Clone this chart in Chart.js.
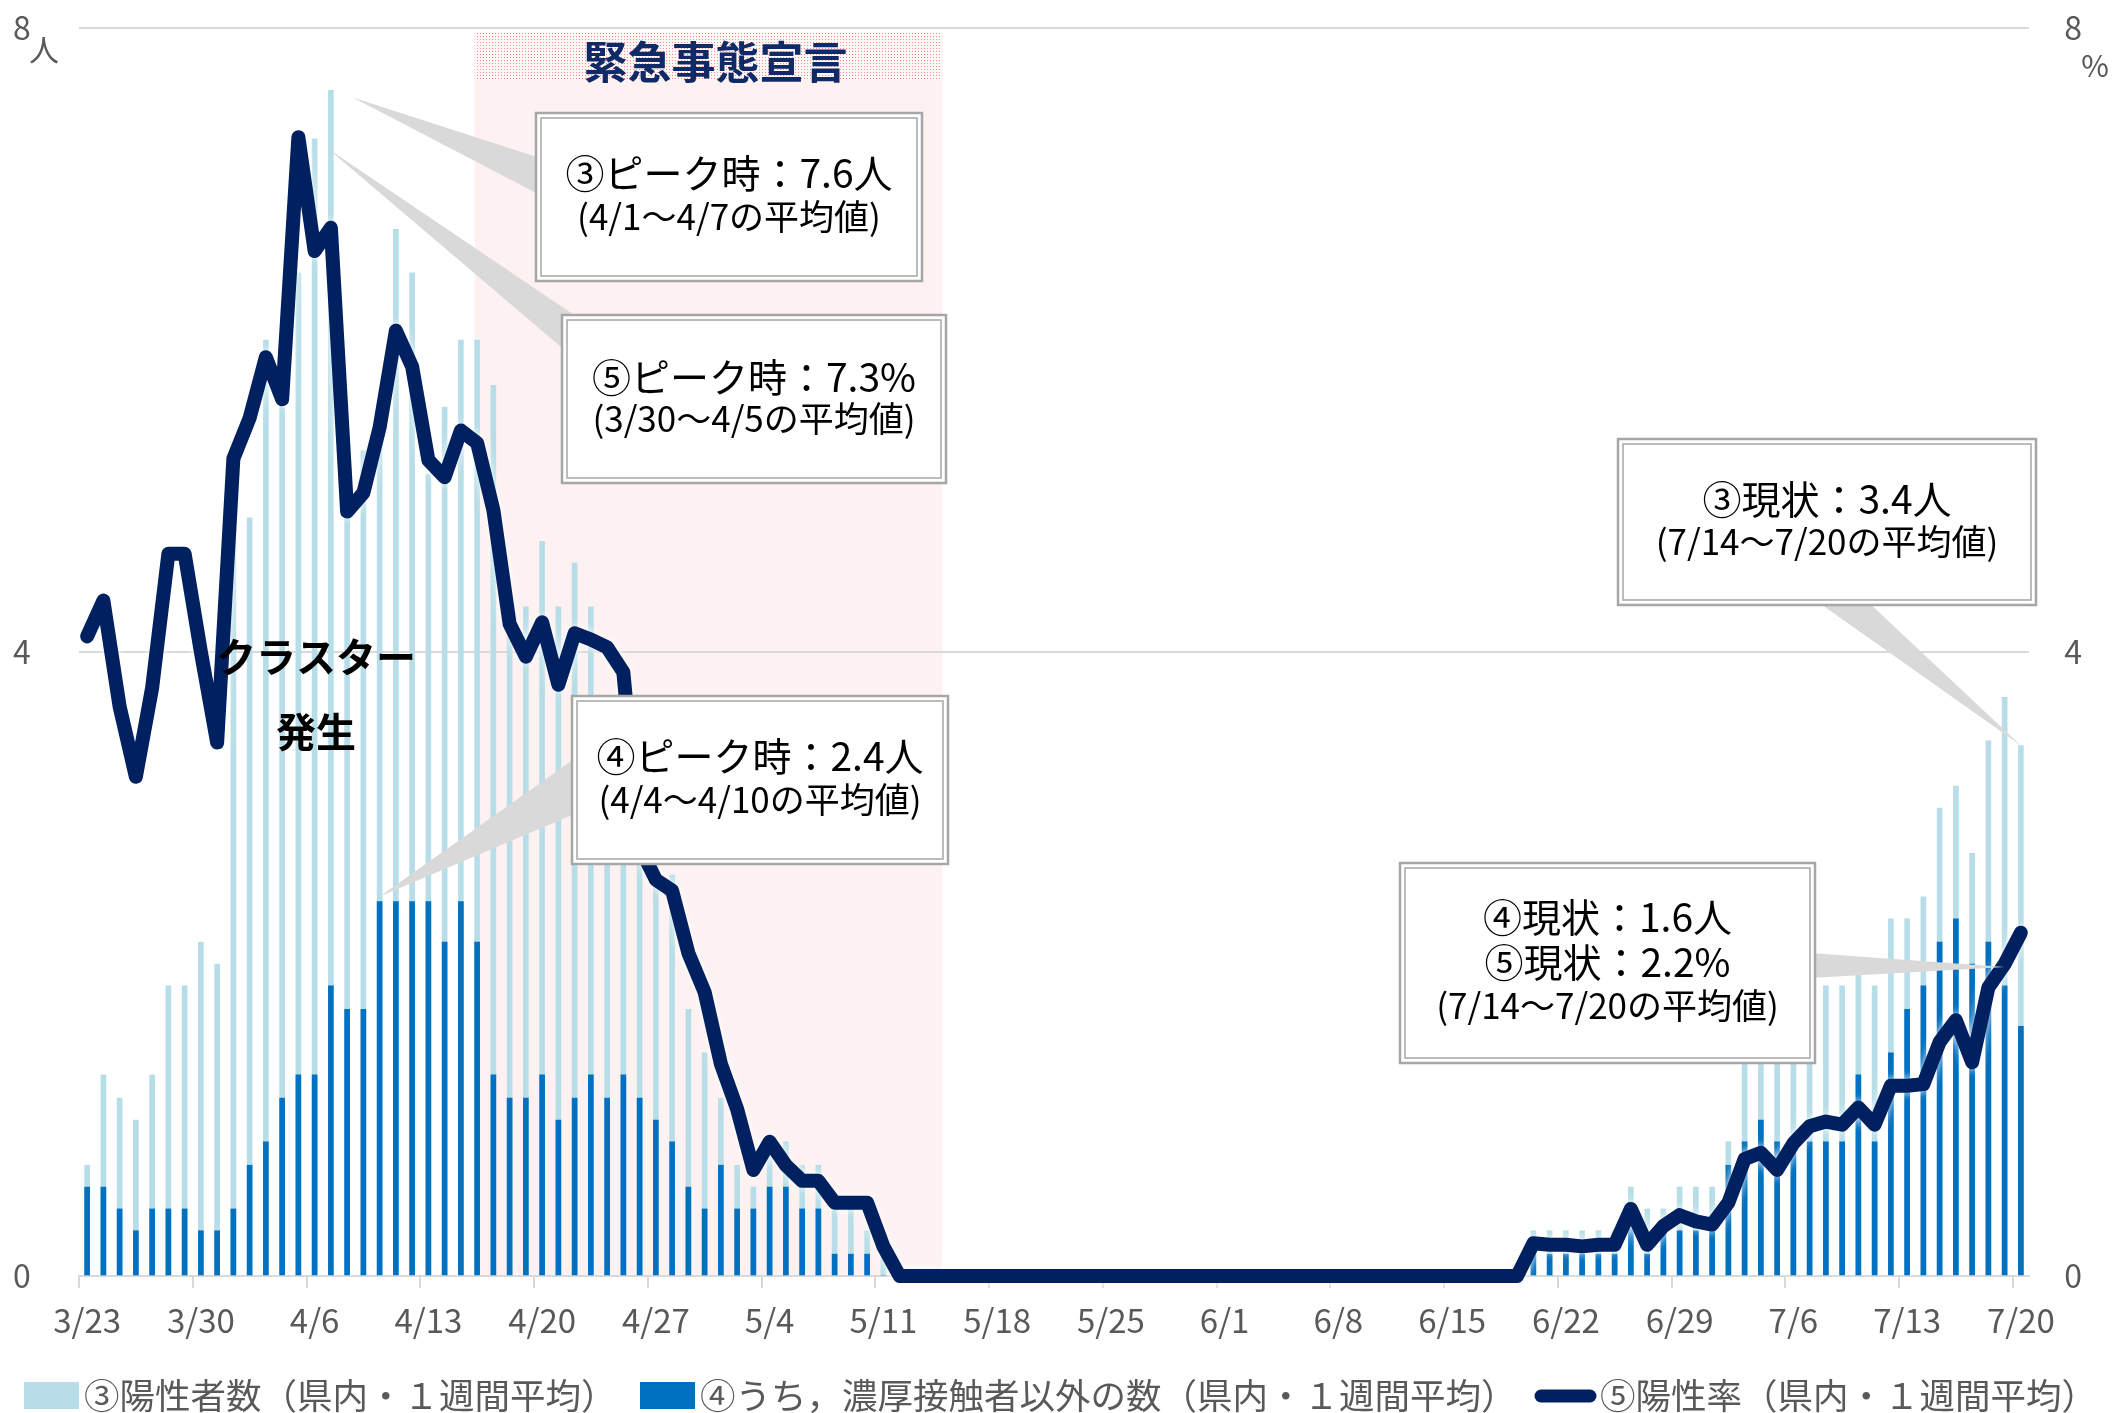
<!DOCTYPE html>
<html lang="ja">
<head>
<meta charset="utf-8">
<title>陽性者数・陽性率の推移</title>
<script src="https://cdn.jsdelivr.net/npm/chart.js@4.4.1/dist/chart.umd.min.js"></script>
<style>
  html, body { margin: 0; padding: 0; background: #fff; }
  #wrap { width: 2125px; height: 1413px; }
</style>
</head>
<body>
<div id="wrap"><canvas id="chart" width="2125" height="1413"></canvas></div>
<script>
// 日付（3/23〜7/20）
const dates = [
  '3/23','3/24','3/25','3/26','3/27','3/28','3/29','3/30','3/31',
  '4/1','4/2','4/3','4/4','4/5','4/6','4/7','4/8','4/9','4/10',
  '4/11','4/12','4/13','4/14','4/15','4/16','4/17','4/18','4/19','4/20',
  '4/21','4/22','4/23','4/24','4/25','4/26','4/27','4/28','4/29','4/30',
  '5/1','5/2','5/3','5/4','5/5','5/6','5/7','5/8','5/9','5/10',
  '5/11','5/12','5/13','5/14','5/15','5/16','5/17','5/18','5/19','5/20',
  '5/21','5/22','5/23','5/24','5/25','5/26','5/27','5/28','5/29','5/30','5/31',
  '6/1','6/2','6/3','6/4','6/5','6/6','6/7','6/8','6/9','6/10',
  '6/11','6/12','6/13','6/14','6/15','6/16','6/17','6/18','6/19','6/20',
  '6/21','6/22','6/23','6/24','6/25','6/26','6/27','6/28','6/29','6/30',
  '7/1','7/2','7/3','7/4','7/5','7/6','7/7','7/8','7/9','7/10',
  '7/11','7/12','7/13','7/14','7/15','7/16','7/17','7/18','7/19','7/20'
];

// 目盛に出す日付（毎週）
const weekLabels = ['3/23','3/30','4/6','4/13','4/20','4/27','5/4','5/11','5/18',
  '5/25','6/1','6/8','6/15','6/22','6/29','7/6','7/13','7/20'];

// ③陽性者数（県内・1週間平均）
const positives = [
  0.71, 1.29, 1.14, 1.00, 1.29, 1.86, 1.86, 2.14, 2.00,
  5.14, 4.86, 6.00, 5.57, 6.43, 7.29, 7.60, 4.86, 5.29, 5.43,
  6.71, 6.43, 5.14, 5.57, 6.00, 6.00, 5.71, 4.14, 4.29, 4.71,
  4.29, 4.57, 4.29, 3.57, 3.43, 3.14, 2.86, 2.57, 1.71, 1.43,
  1.14, 0.71, 0.57, 0.86, 0.86, 0.71, 0.71, 0.43, 0.43, 0.29,
  0.14, 0, 0, 0, 0, 0, 0, 0, 0, 0,
  0, 0, 0, 0, 0, 0, 0, 0, 0, 0, 0,
  0, 0, 0, 0, 0, 0, 0, 0, 0, 0,
  0, 0, 0, 0, 0, 0, 0, 0, 0, 0.29,
  0.29, 0.29, 0.29, 0.29, 0.29, 0.57, 0.43, 0.43, 0.57, 0.57,
  0.57, 0.86, 1.43, 1.57, 1.71, 1.71, 1.86, 1.86, 1.86, 2.00,
  1.86, 2.29, 2.29, 2.43, 3.00, 3.14, 2.71, 3.43, 3.71, 3.40
];

// ④うち、濃厚接触者以外の数（県内・1週間平均）
const nonContact = [
  0.57, 0.57, 0.43, 0.29, 0.43, 0.43, 0.43, 0.29, 0.29,
  0.43, 0.71, 0.86, 1.14, 1.29, 1.29, 1.86, 1.71, 1.71, 2.40,
  2.40, 2.40, 2.40, 2.14, 2.40, 2.14, 1.29, 1.14, 1.14, 1.29,
  1.00, 1.14, 1.29, 1.14, 1.29, 1.14, 1.00, 0.86, 0.57, 0.43,
  0.71, 0.43, 0.43, 0.57, 0.57, 0.43, 0.43, 0.14, 0.14, 0.14,
  0, 0, 0, 0, 0, 0, 0, 0, 0, 0,
  0, 0, 0, 0, 0, 0, 0, 0, 0, 0, 0,
  0, 0, 0, 0, 0, 0, 0, 0, 0, 0,
  0, 0, 0, 0, 0, 0, 0, 0, 0, 0.14,
  0.14, 0.14, 0.14, 0.14, 0.14, 0.43, 0.14, 0.29, 0.29, 0.29,
  0.29, 0.71, 0.86, 1.00, 0.86, 0.86, 0.86, 0.86, 0.86, 1.29,
  0.86, 1.43, 1.71, 1.86, 2.14, 2.29, 2.00, 2.14, 1.86, 1.60
];

// ⑤陽性率（県内・1週間平均、%）
const positiveRate = [
  4.10, 4.33, 3.65, 3.20, 3.77, 4.63, 4.63, 4.00, 3.42,
  5.24, 5.50, 5.89, 5.62, 7.30, 6.57, 6.72, 4.90, 5.02, 5.44,
  6.06, 5.83, 5.23, 5.12, 5.42, 5.34, 4.91, 4.18, 3.97, 4.19,
  3.79, 4.12, 4.08, 4.03, 3.87, 2.75, 2.54, 2.47, 2.07, 1.82,
  1.36, 1.07, 0.68, 0.86, 0.71, 0.61, 0.61, 0.47, 0.47, 0.47,
  0.19, 0, 0, 0, 0, 0, 0, 0, 0, 0,
  0, 0, 0, 0, 0, 0, 0, 0, 0, 0, 0,
  0, 0, 0, 0, 0, 0, 0, 0, 0, 0,
  0, 0, 0, 0, 0, 0, 0, 0, 0, 0.21,
  0.20, 0.20, 0.19, 0.20, 0.20, 0.43, 0.20, 0.32, 0.39, 0.35,
  0.33, 0.47, 0.75, 0.79, 0.68, 0.85, 0.96, 0.99, 0.97, 1.08,
  0.97, 1.22, 1.22, 1.23, 1.50, 1.64, 1.37, 1.85, 2.00, 2.20
];

// 緊急事態宣言の期間
const declStart = '4/16';
const declEnd = '5/14';

const FONT = "'Noto Sans CJK JP', 'Noto Sans', sans-serif";
Chart.defaults.font.family = FONT;
Chart.defaults.color = '#595959';

const LIGHT = '#b7dee8';
const BLUE = '#0070c0';
const NAVY = '#002060';

const idx = d => dates.indexOf(d);

// 吹き出し（枠の位置と文字）
const notes = [
  {
    box: [535, 112, 388, 170],
    text: [['③ピーク時：7.6人', 39, 61], ['(4/1～4/7の平均値)', 35, 105]],
    base: [[540, 158], [540, 195]],
    tip: s => [s.x.getPixelForValue(idx('4/7')) + 22, s.y.getPixelForValue(positives[idx('4/7')]) + 7]
  },
  {
    box: [561, 314, 386, 170],
    text: [['⑤ピーク時：7.3%', 39, 63], ['(3/30～4/5の平均値)', 35, 105]],
    base: [[580, 319], [567, 352]],
    tip: s => [s.x.getPixelForValue(idx('4/5')) + 29, s.y2.getPixelForValue(positiveRate[idx('4/5')]) + 11]
  },
  {
    box: [571, 695, 378, 170],
    text: [['④ピーク時：2.4人', 39, 61], ['(4/4～4/10の平均値)', 35, 105]],
    base: [[577, 757], [577, 813]],
    tip: s => [s.x.getPixelForValue(idx('4/10')), s.y.getPixelForValue(nonContact[idx('4/10')]) - 5]
  },
  {
    box: [1617, 438, 420, 168],
    text: [['③現状：3.4人', 39, 61], ['(7/14～7/20の平均値)', 35, 104]],
    base: [[1815, 600], [1866, 600]],
    tip: s => [s.x.getPixelForValue(idx('7/20')), s.y.getPixelForValue(positives[idx('7/20')])]
  },
  {
    box: [1399, 862, 417, 202],
    text: [['④現状：1.6人', 39, 55], ['⑤現状：2.2%', 39, 100], ['(7/14～7/20の平均値)', 35, 144]],
    base: [[1810, 953], [1810, 978]],
    tip: s => [s.x.getPixelForValue(idx('7/19')), s.y2.getPixelForValue(positiveRate[idx('7/19')]) + 3]
  }
];

function dotPattern(ctx) {
  const tile = document.createElement('canvas');
  tile.width = 3; tile.height = 3;
  const t = tile.getContext('2d');
  t.fillStyle = '#fff6f6';
  t.fillRect(0, 0, 3, 3);
  t.fillStyle = '#ee9090';
  t.fillRect(0, 0, 1, 1);
  return ctx.createPattern(tile, 'repeat');
}

const decor = {
  id: 'decor',
  // 宣言期間の背景
  beforeDraw(chart) {
    const { ctx, chartArea, scales } = chart;
    const x = scales.x;
    const step = x.getPixelForValue(1) - x.getPixelForValue(0);
    const left = x.getPixelForValue(idx(declStart)) - 0.15 * step;
    const right = x.getPixelForValue(idx(declEnd)) + 0.62 * step;
    const top = chartArea.top + 4;
    ctx.save();
    ctx.fillStyle = '#fef1f1';
    ctx.fillRect(left, top, right - left, chartArea.bottom - top);
    ctx.fillStyle = dotPattern(ctx);
    ctx.fillRect(left, top, right - left, 48);
    ctx.fillStyle = '#0f2a66';
    ctx.font = 'bold 44px ' + FONT;
    ctx.textAlign = 'center';
    ctx.textBaseline = 'middle';
    ctx.fillText('緊急事態宣言', (left + right) / 2 + 7, top + 30);
    ctx.restore();
  },
  // 折れ線に白いふち
  beforeDatasetDraw(chart, args) {
    if (args.meta.type !== 'line') return;
    chart.ctx.save();
    chart.ctx.shadowColor = 'rgba(255,255,255,0.95)';
    chart.ctx.shadowBlur = 9;
  },
  afterDatasetDraw(chart, args) {
    if (args.meta.type !== 'line') return;
    chart.ctx.restore();
  },
  afterDatasetsDraw(chart) {
    const { ctx, scales } = chart;
    ctx.save();

    ctx.fillStyle = '#000';
    ctx.font = 'bold 40px ' + FONT;
    ctx.textAlign = 'center';
    ctx.textBaseline = 'middle';
    ctx.fillText('クラスター', 316, 657);
    ctx.fillText('発生', 316, 732);

    notes.forEach(n => {
      const [tx, ty] = n.tip(scales);
      ctx.fillStyle = '#d9d9d9';
      ctx.beginPath();
      ctx.moveTo(tx, ty);
      ctx.lineTo(n.base[0][0], n.base[0][1]);
      ctx.lineTo(n.base[1][0], n.base[1][1]);
      ctx.closePath();
      ctx.fill();
    });

    notes.forEach(n => {
      const [bx, by, bw, bh] = n.box;
      ctx.fillStyle = '#fff';
      ctx.fillRect(bx, by, bw, bh);
      ctx.strokeStyle = '#a6a6a6';
      ctx.lineWidth = 2.5;
      ctx.strokeRect(bx + 1, by + 1, bw - 2, bh - 2);
      ctx.lineWidth = 1.5;
      ctx.strokeRect(bx + 6, by + 6, bw - 12, bh - 12);
      ctx.fillStyle = '#000';
      ctx.textAlign = 'center';
      ctx.textBaseline = 'middle';
      n.text.forEach(([s, size, dy]) => {
        ctx.font = size + 'px ' + FONT;
        ctx.fillText(s, bx + bw / 2, by + dy);
      });
    });
    ctx.restore();
  },
  afterDraw(chart) {
    const { ctx } = chart;
    ctx.save();
    ctx.fillStyle = '#595959';
    ctx.font = '30px ' + FONT;
    ctx.textAlign = 'center';
    ctx.textBaseline = 'middle';
    ctx.fillText('人', 44, 50);
    ctx.fillText('%', 2095, 66);

    // 凡例
    const y = 1396;
    ctx.font = '35.5px ' + FONT;
    ctx.textAlign = 'left';
    ctx.fillStyle = LIGHT;
    ctx.fillRect(24, y - 14, 55, 27);
    ctx.fillStyle = '#595959';
    ctx.fillText('③陽性者数（県内・１週間平均）', 84, y);
    ctx.fillStyle = BLUE;
    ctx.fillRect(640, y - 14, 55, 27);
    ctx.fillStyle = '#595959';
    ctx.fillText('④うち，濃厚接触者以外の数（県内・１週間平均）', 700, y);
    ctx.strokeStyle = NAVY;
    ctx.lineWidth = 13;
    ctx.lineCap = 'round';
    ctx.beginPath();
    ctx.moveTo(1541, y);
    ctx.lineTo(1590, y);
    ctx.stroke();
    ctx.fillStyle = '#595959';
    ctx.fillText('⑤陽性率（県内・１週間平均）', 1600, y);
    ctx.restore();
  }
};

new Chart(document.getElementById('chart'), {
  type: 'bar',
  data: {
    labels: dates,
    datasets: [
      {
        label: '③陽性者数（県内・１週間平均）',
        data: positives,
        backgroundColor: LIGHT,
        barThickness: 5,
        grouped: false,
        order: 3,
        yAxisID: 'y'
      },
      {
        label: '④うち，濃厚接触者以外の数（県内・１週間平均）',
        data: nonContact,
        backgroundColor: BLUE,
        barThickness: 5,
        grouped: false,
        order: 2,
        yAxisID: 'y'
      },
      {
        type: 'line',
        label: '⑤陽性率（県内・１週間平均）',
        data: positiveRate,
        borderColor: NAVY,
        borderWidth: 14,
        borderJoinStyle: 'round',
        borderCapStyle: 'round',
        pointRadius: 0,
        tension: 0,
        clip: false,
        order: 1,
        yAxisID: 'y2'
      }
    ]
  },
  options: {
    responsive: false,
    animation: false,
    events: [],
    layout: { padding: { left: 13, right: 43, top: 28, bottom: 65 } },
    plugins: {
      legend: { display: false },
      tooltip: { enabled: false }
    },
    scales: {
      x: {
        offset: true,
        grid: {
          offset: true,
          drawOnChartArea: false,
          tickLength: 12,
          lineWidth: 2,
          color: c => (c.index % 7 === 0 ? '#d9d9d9' : 'rgba(0,0,0,0)')
        },
        border: { color: '#d9d9d9', width: 2 },
        ticks: {
          autoSkip: false,
          maxRotation: 0,
          minRotation: 0,
          padding: 13,
          font: { size: 33 },
          color: '#595959',
          callback: (v, i) => (weekLabels.includes(dates[i]) ? dates[i] : '')
        },
        afterFit: s => { s.height = 72; }
      },
      y: {
        position: 'left',
        min: 0,
        max: 8,
        ticks: { stepSize: 4, crossAlign: 'far', font: { size: 32 }, color: '#595959' },
        grid: { color: '#d9d9d9', lineWidth: 2, drawTicks: false },
        border: { display: false },
        afterFit: s => { s.width = 66; }
      },
      y2: {
        position: 'right',
        min: 0,
        max: 8,
        ticks: { stepSize: 4, crossAlign: 'far', font: { size: 32 }, color: '#595959' },
        grid: { display: false, drawTicks: false },
        border: { display: false },
        afterFit: s => { s.width = 53; }
      }
    }
  },
  plugins: [decor]
});
</script>
</body>
</html>
